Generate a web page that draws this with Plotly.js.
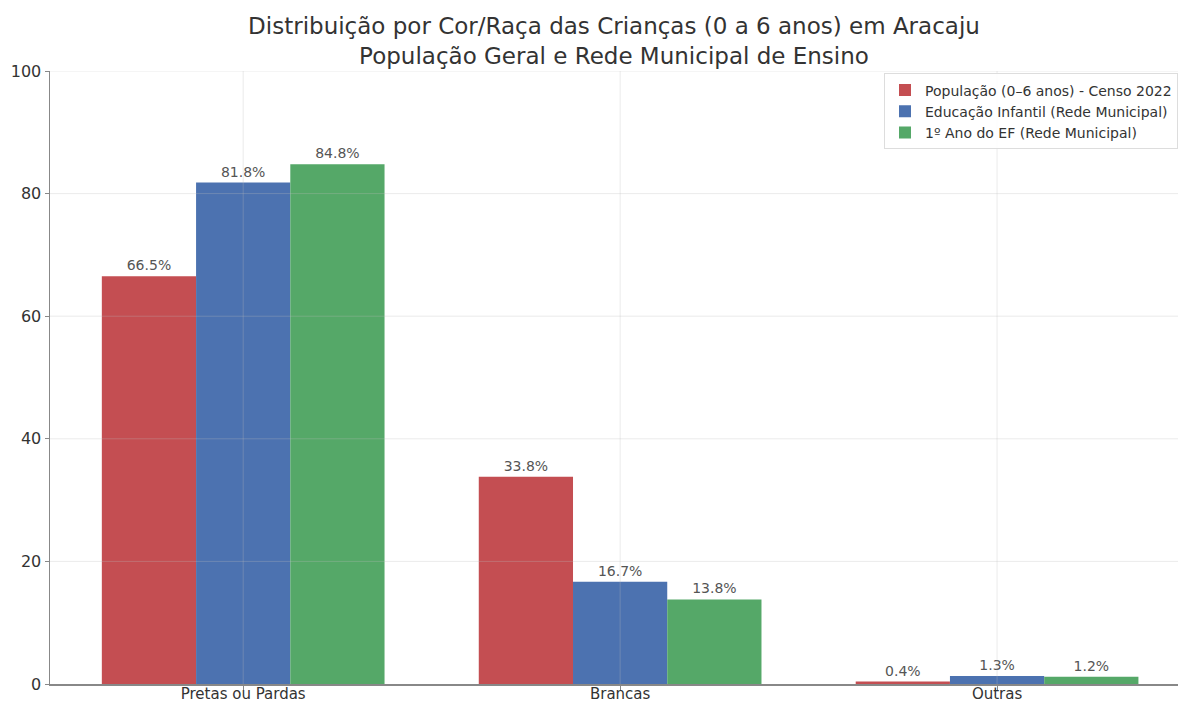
<!DOCTYPE html>
<html>
<head>
<meta charset="utf-8">
<script src="https://cdn.plot.ly/plotly-3.0.1.min.js"></script>
<style>html,body{margin:0;padding:0;background:#fff;}#chart{width:1178px;height:704px;}</style>
</head>
<body>
<div id="chart"></div>
<script>
const categories = ["Pretas ou Pardas", "Brancas", "Outras"];
const seriesNames = ["População (0–6 anos) - Censo 2022", "Educação Infantil (Rede Municipal)", "1º Ano do EF (Rede Municipal)"];
const populacao = [66.5, 33.8, 0.4];
const educacaoInfantil = [81.8, 16.7, 1.3];
const primeiroAno = [84.8, 13.8, 1.2];
const yTicks = [0, 20, 40, 60, 80, 100];
const colors = ["#C44E52", "#4C72B0", "#55A868"];

const allSeries = [populacao, educacaoInfantil, primeiroAno];
const traces = allSeries.map((vals, i) => ({
  type: "bar",
  name: seriesNames[i],
  x: categories,
  y: vals,
  marker: {color: colors[i], line: {width: 0}},
  texttemplate: "%{y:.1f}%",
  textposition: "outside",
  cliponaxis: false,
  textfont: {family: "DejaVu Sans", size: 14, color: "#555"},
  hoverinfo: "none"
}));

// Grid drawn above the bars (as in the reference), semi-transparent
const gridColor = "rgba(190,190,190,0.3)";
const gridShapes = [];
yTicks.slice(1).forEach(v => gridShapes.push({
  type: "line", layer: "above", xref: "paper", yref: "y",
  x0: 0, x1: 1, y0: v, y1: v, line: {color: gridColor, width: 1}
}));
categories.forEach(c => gridShapes.push({
  type: "line", layer: "above", xref: "x", yref: "paper",
  x0: c, x1: c, y0: 0, y1: 1, line: {color: gridColor, width: 1}
}));

const layout = {
  width: 1178,
  height: 704,
  paper_bgcolor: "#fff",
  plot_bgcolor: "#fff",
  font: {family: "DejaVu Sans", color: "#333"},
  margin: {l: 50, r: 0, t: 71, b: 20, autoexpand: false},
  barmode: "group",
  bargap: 0.25,
  bargroupgap: 0,
  title: {
    text: "Distribuição por Cor/Raça das Crianças (0 a 6 anos) em Aracaju<br>População Geral e Rede Municipal de Ensino",
    font: {family: "DejaVu Sans", size: 23, color: "#333"},
    x: 0.5, xref: "paper", xanchor: "center",
    yref: "container", y: 0.951, yanchor: "middle"
  },
  shapes: gridShapes,
  xaxis: {
    type: "category",
    range: [-0.5125, 2.48],
    showgrid: false,
    showline: true,
    linecolor: "#888",
    linewidth: 1.5,
    ticks: "outside",
    ticklen: 4,
    tickcolor: "#888",
    ticklabelstandoff: -9,
    tickfont: {family: "DejaVu Sans", size: 15, color: "#333"},
    automargin: false,
    zeroline: false
  },
  yaxis: {
    range: [0, 100],
    tickvals: yTicks,
    ticktext: yTicks.map(String),
    showgrid: false,
    showline: true,
    linecolor: "#888",
    linewidth: 1.5,
    ticks: "outside",
    ticklen: 4,
    tickcolor: "#888",
    tickfont: {family: "DejaVu Sans", size: 16, color: "#333"},
    automargin: false,
    zeroline: false
  },
  showlegend: true,
  legend: {
    x: 1, xanchor: "right",
    y: 0.996, yanchor: "top",
    bgcolor: "rgba(255,255,255,0.9)",
    bordercolor: "#ddd",
    borderwidth: 1,
    font: {family: "DejaVu Sans", size: 14, color: "#333"},
    tracegroupgap: 0,
    itemwidth: 30
  }
};

Plotly.newPlot("chart", traces, layout, {displayModeBar: false, staticPlot: true});
</script>
</body>
</html>
